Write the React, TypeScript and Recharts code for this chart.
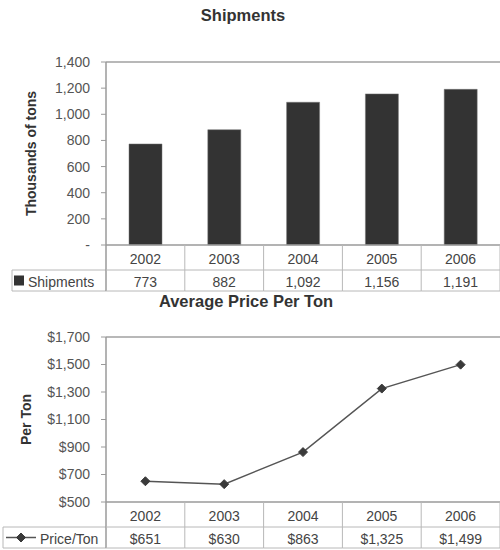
import React from 'react';
import { BarChart, Bar, LineChart, Line, XAxis, YAxis, ReferenceLine } from 'recharts';

const years = ['2002', '2003', '2004', '2005', '2006'];
const shipments = [773, 882, 1092, 1156, 1191];
const pricePerTon = [651, 630, 863, 1325, 1499];
const shipmentTicks = [0, 200, 400, 600, 800, 1000, 1200, 1400];
const priceTicks = [500, 700, 900, 1100, 1300, 1500, 1700];

const shipmentData = years.map((year, i) => ({ year, value: shipments[i] }));
const priceData = years.map((year, i) => ({ year, value: pricePerTon[i] }));

const FONT = '"Liberation Sans", Arial, Helvetica, sans-serif';
const WIDTH = 500;
const AXIS_W = 106;
const CELL_W = (WIDTH - AXIS_W) / years.length;
const ROW1 = 25;
const ROW2 = 21;
const GRID = '#b8b8b8';
const AXIS = '#9a9a9a';
const TEXT = '#444';

const fmtTons = (v: number) => (v === 0 ? '-' : v.toLocaleString('en-US'));
const fmtPrice = (v: number) => '$' + v.toLocaleString('en-US');

// data table under the x axis: year row + value row, with a legend cell on the left
const makeTableTick =
  (values: number[], fmt: (v: number) => string, headerLeft: number, header: (cy: number) => React.ReactNode) =>
  (props: any) => {
    const { x, y, payload } = props;
    const i = payload.index ?? props.index;
    const left = x - CELL_W / 2;
    const right = x + CELL_W / 2;
    const mid = y + ROW1;
    const bottom = y + ROW1 + ROW2;
    return (
      <g>
        {i === 0 && (
          <g stroke={GRID} strokeWidth={1}>
            <line x1={headerLeft} x2={left} y1={mid} y2={mid} />
            <line x1={headerLeft} x2={left} y1={bottom} y2={bottom} />
            <line x1={headerLeft} x2={headerLeft} y1={mid} y2={bottom} />
            <line x1={left} x2={left} y1={y} y2={bottom} stroke={AXIS} strokeWidth={1.5} />
          </g>
        )}
        {i === 0 && header(mid + ROW2 / 2)}
        <g stroke={GRID} strokeWidth={1}>
          <line x1={right} x2={right} y1={y} y2={bottom} />
          <line x1={left} x2={right} y1={mid} y2={mid} />
          <line x1={left} x2={right} y1={bottom} y2={bottom} />
        </g>
        <text x={x} y={y + ROW1 / 2 + 1} textAnchor="middle" dominantBaseline="central" fill={TEXT} fontSize={14} fontFamily={FONT}>
          {payload.value}
        </text>
        <text x={x} y={mid + ROW2 / 2 + 1} textAnchor="middle" dominantBaseline="central" fill={TEXT} fontSize={14} fontFamily={FONT}>
          {fmt(values[i])}
        </text>
      </g>
    );
  };

const shipmentHeader = (cy: number) => (
  <g>
    <rect x={14} y={cy - 5} width={10} height={10} fill="#333" />
    <text x={28} y={cy + 1} dominantBaseline="central" fill={TEXT} fontSize={14} fontFamily={FONT}>
      Shipments
    </text>
  </g>
);

const Diamond = ({ cx, cy, r = 4.5 }: any) => (
  <polygon points={`${cx},${cy - r} ${cx + r},${cy} ${cx},${cy + r} ${cx - r},${cy}`} fill="#3a3a3a" stroke="#3a3a3a" />
);

const priceHeader = (cy: number) => (
  <g>
    <line x1={6} x2={36} y1={cy} y2={cy} stroke="#555" strokeWidth={1.5} />
    <Diamond cx={21} cy={cy} />
    <text x={40} y={cy + 1} dominantBaseline="central" fill={TEXT} fontSize={14} fontFamily={FONT}>
      Price/Ton
    </text>
  </g>
);

const AxisTitle = ({ viewBox, value, cx }: any) => {
  const cy = viewBox.y + viewBox.height / 2;
  return (
    <text
      x={cx}
      y={cy}
      transform={`rotate(-90 ${cx} ${cy})`}
      textAnchor="middle"
      dominantBaseline="central"
      fill="#333"
      fontSize={14}
      fontWeight="bold"
      fontFamily={FONT}
    >
      {value}
    </text>
  );
};

const tickStyle = { fill: '#555', fontSize: 14, fontFamily: FONT };

export default function App() {
  return (
    <div style={{ position: 'absolute', left: 0, top: 0, width: 500, height: 550, background: '#fff', overflow: 'hidden' }}>
      <div style={{ position: 'absolute', left: 0, top: 0 }}>
        <BarChart width={WIDTH} height={292} data={shipmentData} margin={{ top: 62, right: 0, bottom: 1, left: 0 }} barCategoryGap={0}>
          <text x={243} y={21} textAnchor="middle" fill="#333" fontSize={16.5} fontWeight="bold" fontFamily={FONT}>
            Shipments
          </text>
          <XAxis
            dataKey="year"
            height={46}
            interval={0}
            tickSize={0}
            tickMargin={0}
            axisLine={{ stroke: AXIS, strokeWidth: 1.5 }}
            tickLine={false}
            tick={makeTableTick(shipments, fmtTons, 12, shipmentHeader)}
          />
          <YAxis
            width={AXIS_W}
            domain={[0, 1400]}
            ticks={shipmentTicks}
            interval={0}
            tickFormatter={fmtTons}
            tickSize={5}
            tickMargin={11}
            tick={tickStyle}
            axisLine={{ stroke: AXIS, strokeWidth: 1.5 }}
            tickLine={{ stroke: AXIS }}
            label={<AxisTitle value="Thousands of tons" cx={31} />}
          />
          <ReferenceLine y={1400} stroke={GRID} strokeWidth={2} />
          <Bar dataKey="value" fill="#333" stroke="#777" strokeWidth={0.5} barSize={33} isAnimationActive={false} />
        </BarChart>
      </div>
      <div style={{ position: 'absolute', left: 0, top: 292 }}>
        <LineChart width={WIDTH} height={258} data={priceData} margin={{ top: 45, right: 0, bottom: 2, left: 0 }}>
          <text x={246} y={15} textAnchor="middle" fill="#333" fontSize={16.5} fontWeight="bold" fontFamily={FONT}>
            Average Price Per Ton
          </text>
          <XAxis
            dataKey="year"
            scale="band"
            height={46}
            interval={0}
            tickSize={0}
            tickMargin={0}
            axisLine={{ stroke: AXIS, strokeWidth: 1.5 }}
            tickLine={false}
            tick={makeTableTick(pricePerTon, fmtPrice, 3, priceHeader)}
          />
          <YAxis
            width={AXIS_W}
            domain={[500, 1700]}
            ticks={priceTicks}
            interval={0}
            tickFormatter={fmtPrice}
            tickSize={5}
            tickMargin={11}
            tick={tickStyle}
            axisLine={{ stroke: AXIS, strokeWidth: 1.5 }}
            tickLine={{ stroke: AXIS }}
            label={<AxisTitle value="Per Ton" cx={26} />}
          />
          <ReferenceLine y={1700} stroke={GRID} strokeWidth={2} />
          <Line
            dataKey="value"
            stroke="#555"
            strokeWidth={1.5}
            dot={(p: any) => <Diamond key={p.index} cx={p.cx} cy={p.cy} />}
            activeDot={false}
            isAnimationActive={false}
          />
        </LineChart>
      </div>
    </div>
  );
}
